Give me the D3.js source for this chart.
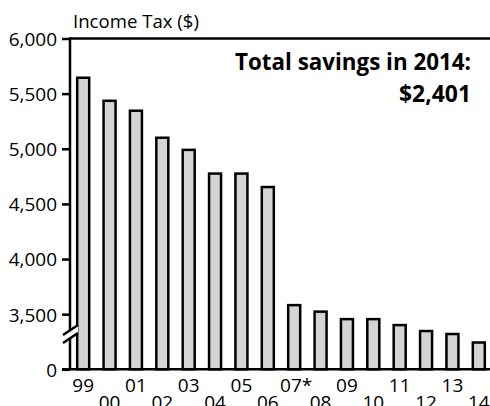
<!DOCTYPE html>
<meta charset="utf-8">
<script src="https://d3js.org/d3.v7.min.js"></script>
<style>
body { margin: 0; background: #fff; }
text {
  font-family: "Open Sans", sans-serif;
  fill: #000;
}
</style>
<body>
<script>

var years = ["99", "00", "01", "02", "03", "04", "05", "06", "07*", "08", "09", "10", "11", "12", "13", "14"];
var incomeTax = [5644, 5435, 5345, 5100, 4990, 4775, 4775, 4653, 3582, 3523, 3455, 3455, 3401, 3347, 3320, 3243];
var yTicks = [0, 3500, 4000, 4500, 5000, 5500, 6000];
var annotation = ["Total savings in 2014:", "$2,401"];

var width = 490,
    height = 406;

// the axis is broken: "0" is drawn where 3,000 would be
var axisBreak = 3000;

var svg = d3.select("body").append("svg")
    .attr("width", width)
    .attr("height", height);

var y = d3.scaleLinear()
    .domain([axisBreak, 6000])
    .range([369.3, 38.5]);

var x = d3.scaleBand()
    .domain(years)
    .range([70, 492])
    .paddingInner(0.545)
    .paddingOuter(0.2725);

function yPos(v) { return y(v < axisBreak ? axisBreak : v); }

// top rule
svg.append("line")
    .attr("x1", 70).attr("x2", width)
    .attr("y1", y(6000)).attr("y2", y(6000))
    .attr("stroke", "#000").attr("stroke-width", 2.5);

// bars
svg.append("g")
  .selectAll("rect")
  .data(incomeTax)
  .enter().append("rect")
    .attr("x", function(d, i) { return x(years[i]); })
    .attr("width", x.bandwidth())
    .attr("y", function(d) { return yPos(d); })
    .attr("height", function(d) { return yPos(0) - yPos(d); })
    .attr("fill", "#d4d4d6")
    .attr("stroke", "#000")
    .attr("stroke-width", 2.5);

// y axis
var yAxis = svg.append("g")
    .attr("transform", "translate(70,0)")
    .call(d3.axisLeft(y)
      .tickValues(yTicks.map(function(t) { return t < axisBreak ? axisBreak : t; }))
      .tickSize(8).tickPadding(5)
      .tickFormat(function(d) { return d === axisBreak ? "0" : d3.format(",")(d); }));
yAxis.select(".domain").remove();
yAxis.selectAll(".tick line").attr("stroke", "#000").attr("stroke-width", 2.5);
yAxis.selectAll(".tick text")
    .style("font-size", "19px")
    .attr("dy", "0.36em");

svg.append("line")
    .attr("x1", 70).attr("x2", 70)
    .attr("y1", y(6000) - 1.25).attr("y2", yPos(0))
    .attr("stroke", "#000").attr("stroke-width", 2.5);

// axis break
svg.append("path")
    .attr("d", "M63,335L78,325L78,333L63,343Z")
    .attr("fill", "#fff");
svg.append("path")
    .attr("d", "M63,335L78,325M63,343L78,333")
    .attr("stroke", "#000").attr("stroke-width", 2.5)
    .attr("fill", "none");

// x baseline
svg.append("line")
    .attr("x1", 62).attr("x2", width)
    .attr("y1", yPos(0)).attr("y2", yPos(0))
    .attr("stroke", "#000").attr("stroke-width", 2.5);

// x labels, staggered in two rows
svg.append("g")
  .selectAll("text")
  .data(years)
  .enter().append("text")
    .attr("x", function(d) { return x(d) + x.bandwidth() / 2 + (d.indexOf("*") > 0 ? 2 : 0); })
    .attr("y", function(d, i) { return i % 2 === 0 ? 392 : 409; })
    .attr("text-anchor", "middle")
    .style("font-size", "19px")
    .text(function(d) { return d; });

// axis title
svg.append("text")
    .attr("x", 73)
    .attr("y", 28)
    .style("font-size", "18.6px")
    .text("Income Tax ($)");

// annotation
svg.append("g")
  .selectAll("text")
  .data(annotation)
  .enter().append("text")
    .attr("x", 471)
    .attr("y", function(d, i) { return 70 + i * 31.5; })
    .attr("text-anchor", "end")
    .attr("textLength", function(d, i) { return i === 0 ? 236 : 72; })
    .attr("lengthAdjust", "spacingAndGlyphs")
    .style("font-size", "23px")
    .style("font-weight", "bold")
    .text(function(d) { return d; });

</script>
</body>
